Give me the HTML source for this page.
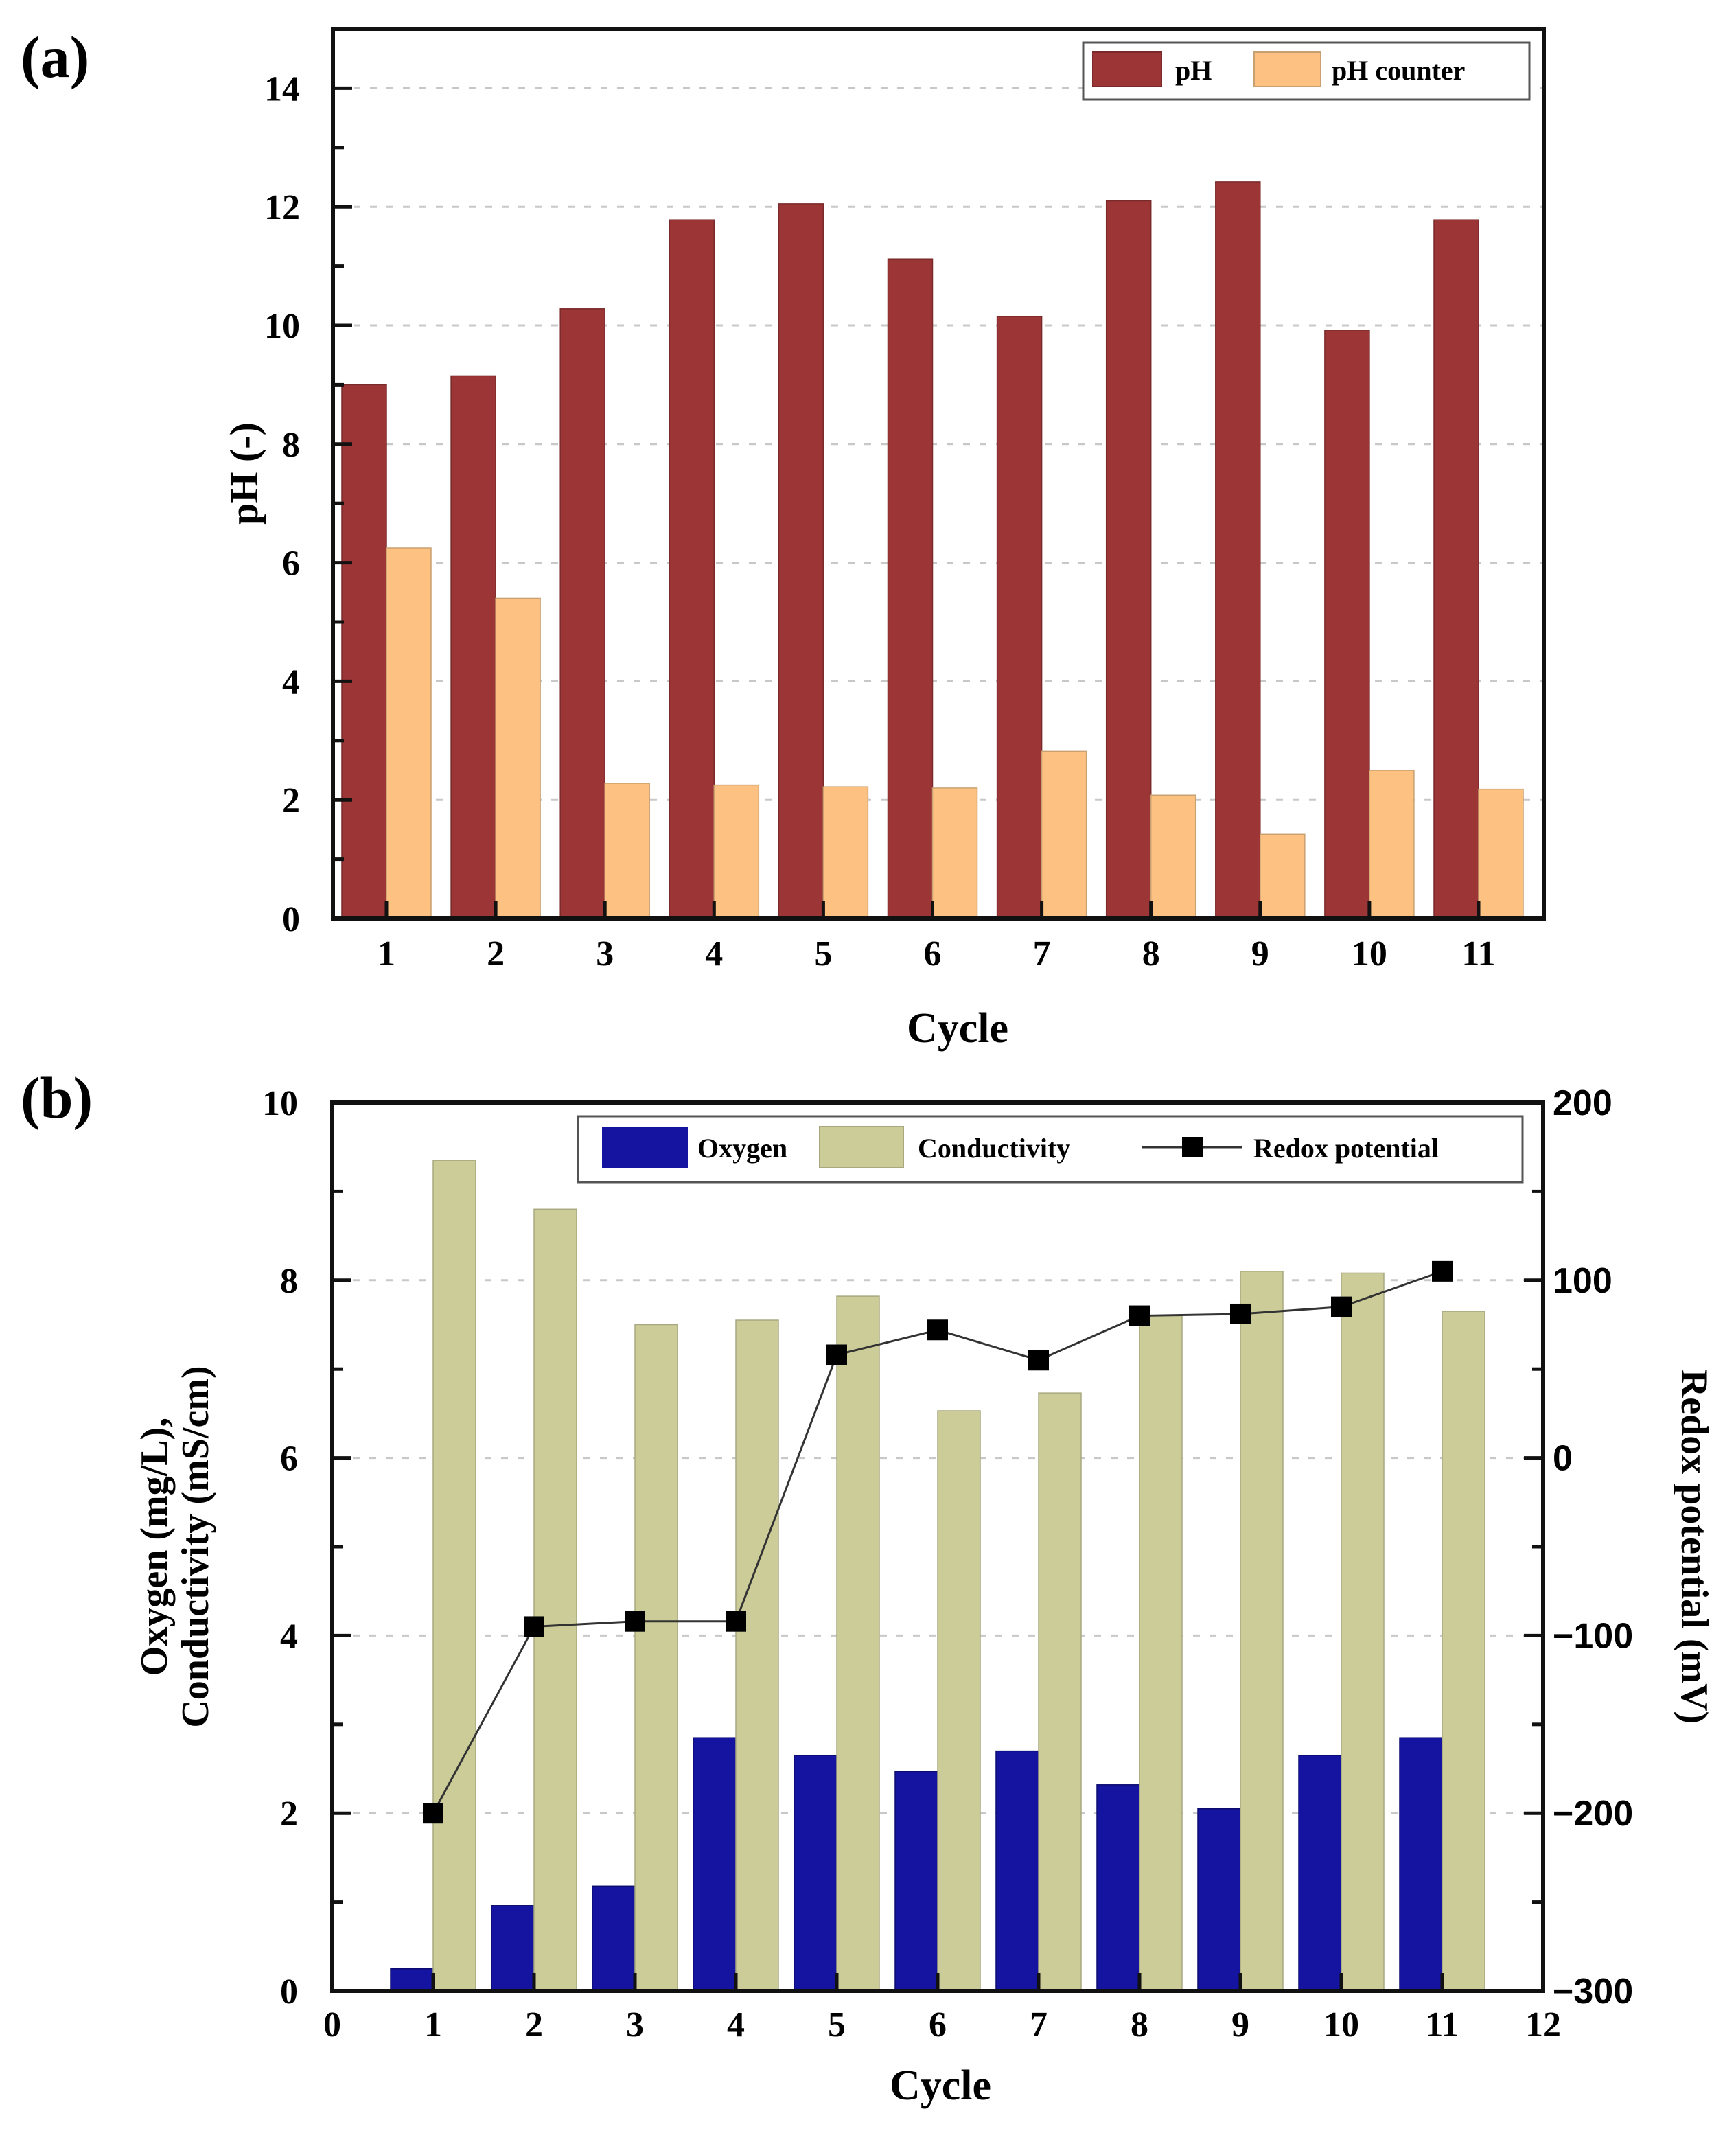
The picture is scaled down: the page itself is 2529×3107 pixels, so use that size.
<!DOCTYPE html>
<html><head><meta charset="utf-8"><style>
html,body{margin:0;padding:0;background:#fff;}
svg{display:block;font-family:"Liberation Serif",serif;font-weight:bold;}
</style></head><body>
<svg id="fig" width="2529" height="3107" viewBox="0 0 2529 3107" xmlns="http://www.w3.org/2000/svg">
<rect width="2529" height="3107" fill="#fff"/>
</svg>
<script>
const catsA = [1,2,3,4,5,6,7,8,9,10,11];
const phVals = [9.0,9.15,10.28,11.78,12.05,11.12,10.15,12.1,12.42,9.92,11.78];
const phCounterVals = [6.25,5.4,2.28,2.25,2.22,2.2,2.82,2.08,1.42,2.5,2.18];
const yTicksA = [0,2,4,6,8,10,12,14];

const catsB = [1,2,3,4,5,6,7,8,9,10,11];
const oxygenVals = [0.25,0.96,1.18,2.85,2.65,2.47,2.7,2.32,2.05,2.65,2.85];
const condVals = [9.35,8.8,7.5,7.55,7.82,6.53,6.73,7.6,8.1,8.08,7.65];
const redoxVals = [-200,-95,-92,-92,58,72,55,80,81,85,105];
const yTicksB = [0,2,4,6,8,10];
const y2TicksB = [-300,-200,-100,0,100,200];
const xTicksB = [0,1,2,3,4,5,6,7,8,9,10,11,12];

const NS="http://www.w3.org/2000/svg";
const svg=document.getElementById('fig');
function mk(tag,attrs,parent){const e=document.createElementNS(NS,tag);for(const k in attrs)e.setAttribute(k,attrs[k]);(parent||svg).appendChild(e);return e;}
function txt(s,attrs,parent){const e=mk('text',attrs,parent);e.textContent=s;return e;}

// ---------- Panel (a) ----------
const A={l:485,r:2249,t:42,b:1338,ymax:15};
const xA=c=>563+(c-1)*159.1;
const yA=v=>A.b-(v/A.ymax)*(A.b-A.t);
const gA=mk('g',{});


txt('(a)',{x:30,y:112,'font-size':86},gA);
yTicksA.forEach(v=>{ if(v>0){const g=mk('line',{x1:A.l+30,x2:A.r,y1:yA(v),y2:yA(v),stroke:'#c8c8c8','stroke-width':3,'stroke-dasharray':'10 14'},gA);}});
const bw=65;
catsA.forEach((c,i)=>{
  const r=mk('rect',{x:xA(c)-bw,y:yA(phVals[i]),width:bw,height:A.b-yA(phVals[i]),fill:'#9b3536',stroke:'#7a2a2a','stroke-width':1.5},gA);
  
  
  const o=mk('rect',{x:xA(c),y:yA(phCounterVals[i]),width:bw,height:A.b-yA(phCounterVals[i]),fill:'#fdc282',stroke:'#c9a070','stroke-width':1.5},gA);
  
  
});
mk('rect',{x:A.l,y:A.t,width:A.r-A.l,height:A.b-A.t,fill:'none',stroke:'#111','stroke-width':6},gA);
yTicksA.forEach(v=>{
  mk('line',{x1:A.l,x2:A.l+28,y1:yA(v),y2:yA(v),stroke:'#111','stroke-width':5},gA);
  const t=txt(v,{x:A.l-48,y:yA(v)+18,'font-size':52,'text-anchor':'end'},gA);
  
  if(v<14) mk('line',{x1:A.l,x2:A.l+16,y1:yA(v+1),y2:yA(v+1),stroke:'#111','stroke-width':5},gA);
});
catsA.forEach(c=>{
  mk('line',{x1:xA(c),x2:xA(c),y1:A.b,y2:A.b-26,stroke:'#111','stroke-width':5},gA);
  const t=txt(c,{x:xA(c),y:1406,'font-size':52,'text-anchor':'middle'},gA);
  
});
txt('Cycle',{x:1395,y:1518,'font-size':62,'text-anchor':'middle'},gA);
txt('pH (-)',{x:0,y:0,'font-size':58,'text-anchor':'middle',transform:'translate(375,690) rotate(-90)'},gA);
const legA=mk('g',{},gA);


mk('rect',{x:1578,y:62,width:650,height:83,fill:'#fff',stroke:'#555','stroke-width':3},legA);
mk('rect',{x:1592,y:76,width:100,height:50,fill:'#9b3536',stroke:'#7a2a2a','stroke-width':2},legA);
txt('pH',{x:1712,y:116,'font-size':40},legA);
mk('rect',{x:1827,y:76,width:97,height:50,fill:'#fdc282',stroke:'#c9a070','stroke-width':2},legA);
txt('pH counter',{x:1940,y:116,'font-size':40},legA);

// ---------- Panel (b) ----------
const B={l:484,r:2248,t:1606,b:2900};
const xB=c=>B.l+(c/12)*(B.r-B.l);
const yB=v=>B.b-(v/10)*(B.b-B.t);
const y2B=v=>B.b-((v+300)/500)*(B.b-B.t);
const gB=mk('g',{});


txt('(b)',{x:30,y:1628,'font-size':86},gB);
yTicksB.forEach(v=>{ if(v>0&&v<10){const g=mk('line',{x1:B.l+30,x2:B.r,y1:yB(v),y2:yB(v),stroke:'#c8c8c8','stroke-width':3,'stroke-dasharray':'10 14'},gB);}});
const bw2=62;
catsB.forEach((c,i)=>{
  const o=mk('rect',{x:xB(c)-bw2,y:yB(oxygenVals[i]),width:bw2,height:B.b-yB(oxygenVals[i]),fill:'#1414a0',stroke:'#0c0c70','stroke-width':1.5},gB);
  
  
  const k=mk('rect',{x:xB(c),y:yB(condVals[i]),width:bw2,height:B.b-yB(condVals[i]),fill:'#cccc99',stroke:'#a8a880','stroke-width':1.5},gB);
  
  
});
const pts=catsB.map((c,i)=>xB(c)+','+y2B(redoxVals[i])).join(' ');
const pl=mk('polyline',{points:pts,fill:'none',stroke:'#333','stroke-width':3},gB);


catsB.forEach((c,i)=>{
  const m=mk('rect',{x:xB(c)-15,y:y2B(redoxVals[i])-15,width:30,height:30,fill:'#000'},gB);
  
  
});
mk('rect',{x:B.l,y:B.t,width:B.r-B.l,height:B.b-B.t,fill:'none',stroke:'#111','stroke-width':6},gB);
yTicksB.forEach(v=>{
  mk('line',{x1:B.l,x2:B.l+28,y1:yB(v),y2:yB(v),stroke:'#111','stroke-width':5},gB);
  txt(v,{x:B.l-50,y:yB(v)+18,'font-size':52,'text-anchor':'end'},gB);
  if(v<10) mk('line',{x1:B.l,x2:B.l+16,y1:yB(v+1),y2:yB(v+1),stroke:'#111','stroke-width':5},gB);
});
y2TicksB.forEach(v=>{
  mk('line',{x1:B.r,x2:B.r-28,y1:y2B(v),y2:y2B(v),stroke:'#111','stroke-width':5},gB);
  txt(String(v).replace('-','\u2212'),{x:B.r+14,y:y2B(v)+18,'font-size':52,'font-family':'Liberation Sans, sans-serif'},gB);
  if(v<200) mk('line',{x1:B.r,x2:B.r-16,y1:y2B(v+50),y2:y2B(v+50),stroke:'#111','stroke-width':5},gB);
});
xTicksB.forEach(c=>{
  mk('line',{x1:xB(c),x2:xB(c),y1:B.b,y2:B.b-26,stroke:'#111','stroke-width':5},gB);
  txt(c,{x:xB(c),y:2966,'font-size':52,'text-anchor':'middle'},gB);
});
txt('Cycle',{x:1370,y:3058,'font-size':62,'text-anchor':'middle'},gB);
const yt=txt('',{x:0,y:0,'font-size':56,'text-anchor':'middle',transform:'translate(0,2253) rotate(-90)'},gB);

const ts1=mk('tspan',{x:0,y:243},yt);ts1.textContent='Oxygen (mg/L),';
const ts2=mk('tspan',{x:0,y:303},yt);ts2.textContent='Conductivity (mS/cm)';
txt('Redox potential (mV)',{x:0,y:0,'font-size':56,'text-anchor':'middle',transform:'translate(2450,2253) rotate(90)'},gB);
const legB=mk('g',{},gB);


mk('rect',{x:842,y:1626,width:1376,height:96,fill:'#fff',stroke:'#555','stroke-width':3},legB);
mk('rect',{x:877,y:1641,width:126,height:60,fill:'#1414a0'},legB);
txt('Oxygen',{x:1016,y:1686,'font-size':40},legB);
mk('rect',{x:1194,y:1641,width:122,height:60,fill:'#cccc99',stroke:'#a8a880','stroke-width':2},legB);
txt('Conductivity',{x:1337,y:1686,'font-size':40},legB);
mk('line',{x1:1663,x2:1810,y1:1671,y2:1671,stroke:'#333','stroke-width':3},legB);
mk('rect',{x:1722,y:1656,width:30,height:30,fill:'#000'},legB);
txt('Redox potential',{x:1826,y:1686,'font-size':40},legB);
</script>
</body></html>
